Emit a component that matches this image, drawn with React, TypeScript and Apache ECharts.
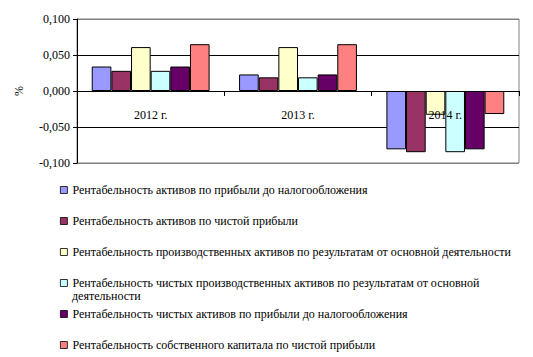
import React, { useEffect, useRef } from "react";
import * as echarts from "echarts";

const categories = ["2012 г.", "2013 г.", "2014 г."];
const seriesNames = [
  "Рентабельность активов по прибыли до налогообложения",
  "Рентабельность активов по чистой прибыли",
  "Рентабельность производственных активов по результатам от основной деятельности",
  "Рентабельность чистых производственных активов по результатам от основной деятельности",
  "Рентабельность чистых активов по прибыли до налогообложения",
  "Рентабельность собственного капитала по чистой прибыли",
];
const s1 = [0.034, 0.023, -0.081];
const s2 = [0.028, 0.019, -0.085];
const s3 = [0.061, 0.061, -0.033];
const s4 = [0.028, 0.019, -0.085];
const s5 = [0.034, 0.023, -0.081];
const s6 = [0.065, 0.065, -0.032];
const seriesValues = [s1, s2, s3, s4, s5, s6];
const colors = ["#9999FF", "#993366", "#FFFFCC", "#CCFFFF", "#660066", "#FF8080"];
const legendCenters = [190, 221, 252, 283, 314, 345];

const FONT = "Liberation Serif";

export default function App() {
  const ref = useRef<HTMLDivElement>(null);
  useEffect(() => {
    if (!ref.current) return;
    const chart = echarts.init(ref.current, null, { renderer: "svg" });
    const legends = seriesNames.map((name, i) => ({
      data: [name],
      left: 60,
      top: legendCenters[i] - 7,
      padding: 0,
      itemWidth: 7,
      itemHeight: 7,
      icon: "rect",
      selectedMode: false,
      itemStyle: { borderColor: "#000", borderWidth: 0.8 },
      formatter: (n: string) =>
        i === 3 ? "Рентабельность чистых производственных активов по результатам от основной" : n,
      textStyle: { fontFamily: FONT, fontSize: 12, color: "#000", lineHeight: 14 },
    }));
    chart.setOption({
      animation: false,
      backgroundColor: "#fff",
      color: colors,
      textStyle: { fontFamily: FONT },
      grid: {
        left: 77,
        right: 14,
        top: 19,
        bottom: 194,
        show: true,
        borderColor: "#808080",
        borderWidth: 1,
      },
      legend: legends,
      graphic: [
        {
          type: "text",
          left: 72,
          top: legendCenters[3] + 7,
          style: { text: "деятельности", fontFamily: FONT, fontSize: 12, fill: "#000" },
        },
      ],
      xAxis: {
        type: "category",
        data: categories,
        z: 5,
        position: "bottom",
        offset: -72,
        axisLine: { onZero: false, lineStyle: { color: "#000", width: 1 } },
        axisTick: { show: true, length: 5, lineStyle: { color: "#000" } },
        axisLabel: { margin: 18, fontFamily: FONT, fontSize: 12, color: "#000", hideOverlap: false },
      },
      yAxis: {
        type: "value",
        min: -0.1,
        max: 0.1,
        interval: 0.05,
        name: "%",
        nameLocation: "middle",
        nameGap: 52,
        nameRotate: 90,
        nameTextStyle: { fontFamily: FONT, fontSize: 12, color: "#000" },
        axisLine: { show: true, lineStyle: { color: "#000" } },
        axisTick: { show: true, length: 4, lineStyle: { color: "#000" } },
        axisLabel: {
          margin: 7,
          fontFamily: FONT,
          fontSize: 12,
          color: "#000",
          formatter: (v: number) => v.toFixed(3).replace(".", ","),
        },
        splitLine: {
          show: true,
          lineStyle: { color: ["#808080", "#000000", "#000000", "#000000", "#808080"], width: 1 },
        },
      },
      series: seriesValues.map((vals, i) => ({
        name: seriesNames[i],
        type: "bar",
        data: vals,
        barGap: "0%",
        barCategoryGap: "20%",
        itemStyle: { color: colors[i], borderColor: "#000", borderWidth: 1 },
      })),
    });
    return () => chart.dispose();
  }, []);
  return <div ref={ref} style={{ width: 533, height: 357, position: "absolute", left: 0, top: 0 }} />;
}
